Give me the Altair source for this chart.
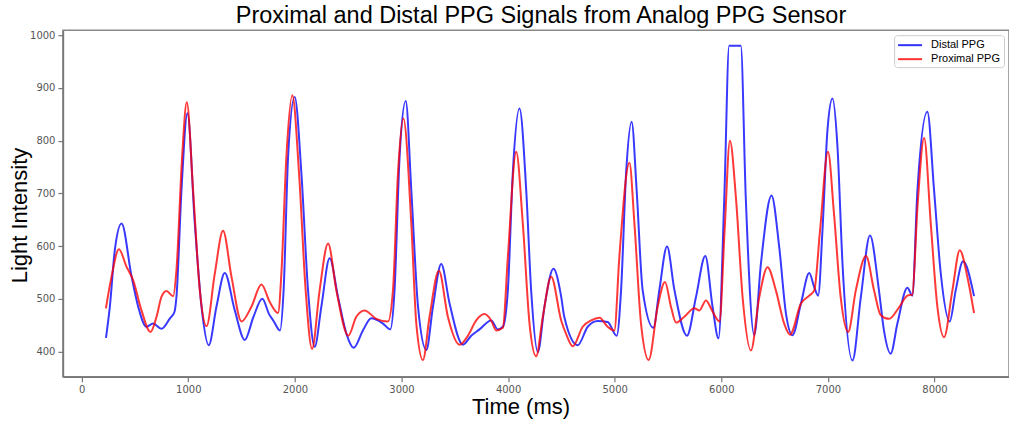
import altair as alt
import pandas as pd

# Distal PPG (blue) key points
distal_t = [228, 264, 311, 374, 468, 530, 608, 670, 749, 828, 870, 889, 936, 992, 1061,
            1124, 1192, 1264, 1342, 1436, 1530, 1610, 1694, 1760, 1800, 1860, 1895, 1936,
            1998, 2061, 2123, 2186, 2248, 2326, 2404, 2483, 2551, 2638, 2717, 2826, 2895,
            2935, 2982, 3040, 3092, 3155, 3233, 3295, 3373, 3451, 3576, 3654, 3732, 3841,
            3904, 3951, 3998, 4044, 4107, 4170, 4216, 4279, 4341, 4425, 4498, 4527, 4653,
            4747, 4840, 4934, 5019, 5060, 5107, 5159, 5206, 5262, 5363, 5419, 5491, 5560,
            5678, 5763, 5850, 5918, 5974, 6028, 6074, 6183, 6230, 6309, 6372, 6471, 6543,
            6606, 6668, 6747, 6825, 6872, 6909, 6949, 6996, 7043, 7090, 7137, 7231, 7309,
            7395, 7479, 7526, 7589, 7652, 7746, 7792, 7840, 7933, 7996, 8059, 8143, 8199,
            8268, 8371]
distal_v = [426, 485, 593, 643, 542, 485, 447, 453, 443, 463, 475, 504, 706, 852, 643,
            485, 412, 485, 549, 478, 422, 465, 500, 470, 458, 440, 520, 769,
            883, 738, 517, 409, 485, 577, 504, 434, 407, 440, 463, 453, 442,
            517, 769, 875, 706, 485, 403, 485, 566, 491, 413, 430, 442, 459,
            442, 447, 517, 738, 861, 706, 517, 399, 485, 557, 504, 466, 412,
            447, 458, 456, 430, 517, 738, 836, 706, 517, 445, 517, 599, 517,
            430, 504, 581, 485, 425, 690, 980, 980, 690, 431, 567, 696, 599,
            473, 431, 491, 549, 522, 506, 629, 820, 880, 788, 567, 383, 503,
            620, 516, 440, 396, 453, 521, 506, 706, 855, 706, 548, 457, 516,
            571, 505]

# Proximal PPG (red) key points
prox_t = [227, 280, 349, 420, 483, 561, 645, 702, 749, 795, 858, 889, 942, 986, 1045,
          1108, 1171, 1248, 1326, 1405, 1499, 1592, 1686, 1764, 1842, 1873, 1920, 1976,
          2039, 2101, 2161, 2232, 2311, 2389, 2501, 2576, 2654, 2764, 2873, 2920, 2967,
          3018, 3092, 3139, 3201, 3263, 3351, 3435, 3545, 3623, 3701, 3779, 3841, 3888,
          3951, 3998, 4076, 4138, 4201, 4263, 4326, 4404, 4498, 4543, 4607, 4700, 4779,
          4857, 4934, 4997, 5044, 5138, 5185, 5247, 5319, 5403, 5472, 5528, 5575, 5653,
          5747, 5794, 5856, 5918, 5983, 6031, 6081, 6138, 6200, 6278, 6356, 6434, 6512,
          6590, 6645, 6747, 6825, 6872, 6926, 7001, 7057, 7120, 7190, 7262, 7358, 7433,
          7496, 7574, 7668, 7746, 7792, 7840, 7903, 7965, 8027, 8090, 8168, 8237, 8309,
          8371]
prox_v = [482, 542, 594, 561, 535, 478, 437, 466, 504, 515, 505, 555, 769, 873, 706,
          516, 448, 547, 629, 542, 457, 485, 527, 494, 473, 547, 769, 886,
          738, 516, 405, 516, 605, 516, 430, 466, 478, 462, 457, 516, 738,
          842, 643, 453, 384, 466, 553, 466, 413, 430, 459, 471, 459, 440,
          445, 580, 779, 643, 453, 391, 466, 542, 459, 434, 410, 447, 459,
          464, 447, 440, 580, 758, 643, 453, 384, 485, 532, 485, 455, 466,
          482, 478, 497, 476, 457, 629, 800, 690, 503, 402, 503, 560, 516,
          453, 432, 491, 506, 516, 629, 779, 662, 503, 437, 516, 581, 516,
          469, 462, 484, 506, 508, 673, 805, 643, 485, 427, 516, 592, 541,
          473]

series_names = ["Distal PPG", "Proximal PPG"]
series_colors = ["#0000ff", "#ff0000"]
x_ticks = [0, 1000, 2000, 3000, 4000, 5000, 6000, 7000, 8000]
y_ticks = [400, 500, 600, 700, 800, 900, 1000]

df = pd.concat([
    pd.DataFrame({"t": distal_t, "v": distal_v, "series": series_names[0]}),
    pd.DataFrame({"t": prox_t, "v": prox_v, "series": series_names[1]}),
], ignore_index=True)

chart = alt.Chart(df).mark_line(
    strokeWidth=2, opacity=0.78, interpolate="monotone"
).encode(
    x=alt.X("t:Q",
            scale=alt.Scale(domain=[-176, 8699], nice=False, zero=False),
            axis=alt.Axis(values=x_ticks, format="d", title="Time (ms)",
                          titleX=458, titleY=37, titleBaseline="alphabetic",
                          titleAlign="center", titleFontSize=22)),
    y=alt.Y("v:Q",
            scale=alt.Scale(domain=[352, 1009.5], nice=False, zero=False),
            axis=alt.Axis(values=y_ticks, format="d", title="Light Intensity",
                          titleX=-36, titleY=185, titleAngle=270,
                          titleBaseline="alphabetic", titleAlign="center")),
    color=alt.Color("series:N",
                    scale=alt.Scale(domain=series_names, range=series_colors),
                    legend=alt.Legend(orient="none", legendX=832, legendY=5,
                                      title=None, symbolType="M-1,0H3",
                                      symbolStrokeWidth=2, symbolSize=144,
                                      labelFont="Liberation Sans", labelFontSize=11,
                                      labelColor="#000", fillColor="white",
                                      strokeColor="#cccccc", padding=3,
                                      rowPadding=2, cornerRadius=3, labelOffset=20,
                                      symbolOpacity=0.8)),
).properties(
    width=947, height=347,
    padding={"left": 63, "top": 30, "right": 0, "bottom": 46},
    autosize="none",
    title=alt.Title("Proximal and Distal PPG Signals from Analog PPG Sensor",
                    font="Liberation Sans", fontSize=23.5, fontWeight="normal",
                    color="#000", offset=3, dx=5, anchor="middle"),
).configure_view(
    stroke="#888888", strokeWidth=1.5
).configure_axis(
    grid=False, domainColor="#777777", domainWidth=1.5,
    tickColor="#777777", tickSize=5, tickWidth=1.2,
    labelFont="DejaVu Sans", labelFontSize=10, labelColor="#555555",
    labelPadding=3,
    titleFont="Liberation Sans", titleFontSize=22, titleFontWeight="normal",
    titleColor="#000"
)

chart.save("out.html", embed_options={"renderer": "svg", "actions": False})
